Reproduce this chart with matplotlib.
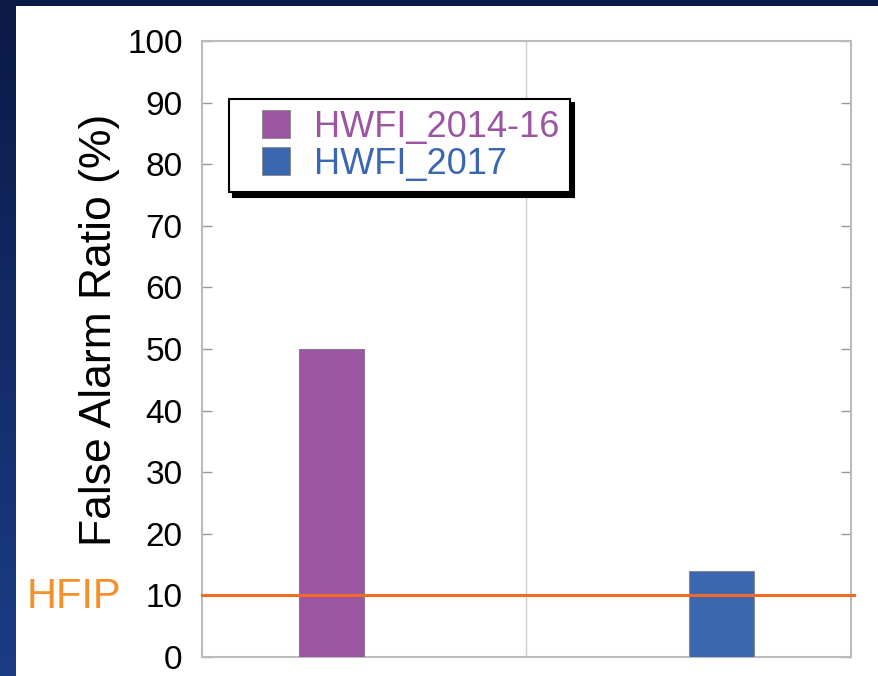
import matplotlib
matplotlib.use("Agg")
import matplotlib.pyplot as plt
import numpy as np
from matplotlib.lines import Line2D
from matplotlib.patches import Rectangle

plt.rcParams['font.family'] = ['Liberation Sans', 'DejaVu Sans']

# data
categories = ["", ""]
series_names = ["HWFI_2014-16", "HWFI_2017"]
hwfi_2014_16 = [50, np.nan]
hwfi_2017 = [np.nan, 14]
hfip_goal = 10
y_ticks = [0, 10, 20, 30, 40, 50, 60, 70, 80, 90, 100]

purple = '#9b55a3'
blue = '#3a67b0'
orange = '#f26a25'

fig = plt.figure(figsize=(8.79, 6.76), dpi=100)

# slide background (dark blue gradient) + white panel
bg = fig.add_axes([0, 0, 1, 1], zorder=-10)
grad = np.linspace(0, 1, 256).reshape(-1, 1)
cmap = matplotlib.colors.LinearSegmentedColormap.from_list('bg', ['#0a1a46', '#1d3c86'])
bg.imshow(grad, aspect='auto', cmap=cmap, extent=[0, 1, 0, 1], origin='upper')
bg.add_patch(Rectangle((16 / 879, 0), (878 - 16) / 879, (676 - 6) / 676,
                       facecolor='white', edgecolor='none'))
bg.set_xlim(0, 1)
bg.set_ylim(0, 1)
bg.axis('off')

ax = fig.add_axes([202 / 879, 19 / 676, 649 / 879, 616 / 676])
ax.set_facecolor('white')

x = np.arange(len(categories))
w = 0.2
ax.bar(x - w / 2, hwfi_2014_16, w, color=purple, edgecolor='#8a7a90', linewidth=0.8, zorder=3)
ax.bar(x + w / 2, hwfi_2017, w, color=blue, edgecolor='#8a8a9a', linewidth=0.8, zorder=3)

# category separator
ax.axvline(0.5, color='#cccccc', linewidth=1, zorder=1)

# HFIP goal line
ax.plot([-0.5, 1.51], [hfip_goal, hfip_goal], color=orange, linewidth=2.2, zorder=4, clip_on=False)

ax.set_xlim(-0.5, 1.5)
ax.set_ylim(0, 100)
ax.set_yticks(y_ticks)
ax.set_xticks([])
ax.tick_params(axis='y', direction='in', length=7, width=1, color='#999999',
               labelsize=24, pad=14, right=True, labelright=False)
for s in ax.spines.values():
    s.set_color('#bbbbbb')
    s.set_linewidth(1.5)

# legend
handles = [Line2D([], [], linestyle='none', marker='s', markersize=20,
                  markerfacecolor=c, markeredgecolor='#888888', markeredgewidth=0.6)
           for c in (purple, blue)]
leg = ax.legend(handles, series_names, loc='upper left', bbox_to_anchor=(0.0416, 0.906),
                borderaxespad=0, fontsize=26, labelcolor=[purple, blue],
                fancybox=False, framealpha=1, edgecolor='black', handlelength=2.0,
                handletextpad=0.05, borderpad=0.3, labelspacing=0.05,
                shadow={'ox': 3, 'oy': -3, 'facecolor': 'black', 'edgecolor': 'black', 'alpha': 1})
leg.get_frame().set_linewidth(1.5)
leg.set_zorder(6)

# texts
fig.text(100 / 879, 1 - 330 / 676, "False Alarm Ratio (%)", rotation=90,
         ha='center', va='center', fontsize=32, color='black')
fig.text(27 / 879, 1 - 597 / 676, "HFIP", ha='left', va='center', fontsize=30, color='#f7902a')

fig.savefig('out.png', dpi=100)
